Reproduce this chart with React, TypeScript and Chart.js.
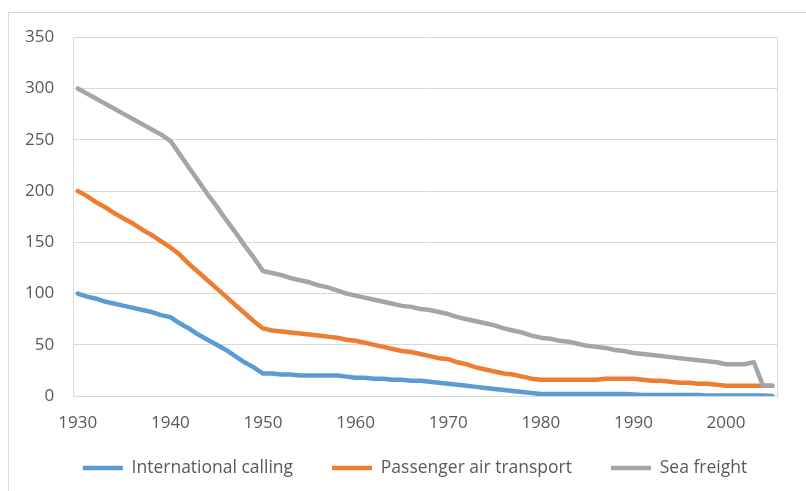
import React, { useEffect, useRef } from "react";
import { Chart, registerables } from "chart.js";

Chart.register(...registerables);

const years = [
  1930, 1931, 1932, 1933, 1934, 1935, 1936, 1937, 1938, 1939,
  1940, 1941, 1942, 1943, 1944, 1945, 1946, 1947, 1948, 1949,
  1950, 1951, 1952, 1953, 1954, 1955, 1956, 1957, 1958, 1959,
  1960, 1961, 1962, 1963, 1964, 1965, 1966, 1967, 1968, 1969,
  1970, 1971, 1972, 1973, 1974, 1975, 1976, 1977, 1978, 1979,
  1980, 1981, 1982, 1983, 1984, 1985, 1986, 1987, 1988, 1989,
  1990, 1991, 1992, 1993, 1994, 1995, 1996, 1997, 1998, 1999,
  2000, 2001, 2002, 2003, 2004, 2005,
];

const internationalCalling = [
  100, 97, 95, 92, 90, 88, 86, 84, 82, 79,
  77, 71, 66, 60, 55, 50, 45, 39, 33, 28,
  22, 22, 21, 21, 20, 20, 20, 20, 20, 19,
  18, 18, 17, 17, 16, 16, 15, 15, 14, 13,
  12, 11, 10, 9, 8, 7, 6, 5, 4, 3,
  2, 2, 2, 2, 2, 2, 2, 2, 2, 2,
  1.5, 1, 1, 1, 1, 1, 1, 1, 0.5, 0.5,
  0.5, 0.5, 0.5, 0.5, 0.5, 0,
];

const passengerAirTransport = [
  200, 195, 189, 184, 178, 173, 168, 162, 157, 151,
  145, 138, 129, 121, 113, 105, 97, 89, 81, 73,
  66, 64, 63, 62, 61, 60, 59, 58, 57, 55,
  54, 52, 50, 48, 46, 44, 43, 41, 39, 37,
  36, 33, 31, 28, 26, 24, 22, 21, 19, 17,
  16, 16, 16, 16, 16, 16, 16, 17, 17, 17,
  17, 16, 15, 15, 14, 13, 13, 12, 12, 11,
  10, 10, 10, 10, 10, 10,
];

const seaFreight = [
  300, 295, 290, 285, 280, 275, 270, 265, 260, 255,
  249, 236, 223, 210, 197, 185, 172, 160, 147, 135,
  122, 120, 118, 115, 113, 111, 108, 106, 103, 100,
  98, 96, 94, 92, 90, 88, 87, 85, 84, 82,
  80, 77, 75, 73, 71, 69, 66, 64, 62, 59,
  57, 56, 54, 53, 51, 49, 48, 47, 45, 44,
  42, 41, 40, 39, 38, 37, 36, 35, 34, 33,
  31, 31, 31, 33, 10, 10,
];

const seriesNames = ["International calling", "Passenger air transport", "Sea freight"];
const seriesColors = ["#5B9BD5", "#ED7D31", "#A5A5A5"];
const yMin = 0;
const yMax = 350;
const yStep = 50;
const labelEvery = 10;

const FONT = "'Open Sans', 'Liberation Sans', sans-serif";
const TEXT = "#595959";
const GRID = "#d9d9d9";
const LEGEND_SHIFT_X = 23.5;
const LEGEND_SHIFT_Y = -30.3;

const layoutTweaks = {
  id: "layoutTweaks",
  afterLayout(chart: any) {
    const lg = chart.legend;
    if (lg) {
      lg.left += LEGEND_SHIFT_X;
      lg.right += LEGEND_SHIFT_X;
      lg.top += LEGEND_SHIFT_Y;
      lg.bottom += LEGEND_SHIFT_Y;
    }
  },
  beforeDatasetsDraw(chart: any) {
    const { ctx, chartArea } = chart;
    const x = Math.round(chartArea.right) + 0.5;
    ctx.save();
    ctx.strokeStyle = GRID;
    ctx.lineWidth = 1;
    ctx.beginPath();
    ctx.moveTo(x, chartArea.top);
    ctx.lineTo(x, chartArea.bottom);
    ctx.stroke();
    ctx.restore();
  },
};

export default function App() {
  const canvasRef = useRef<HTMLCanvasElement | null>(null);

  useEffect(() => {
    const canvas = canvasRef.current;
    if (!canvas) return;
    const values = [internationalCalling, passengerAirTransport, seaFreight];
    const chart = new Chart(canvas, {
      type: "line",
      data: {
        labels: years.map(String),
        datasets: values.map((data, i) => ({
          label: seriesNames[i],
          data,
          borderColor: seriesColors[i],
          backgroundColor: seriesColors[i],
          borderWidth: 4.5,
          pointRadius: 0,
          pointHoverRadius: 0,
          tension: 0,
          fill: false,
          borderCapStyle: "round",
          borderJoinStyle: "round",
          order: 3 - i,
        })),
      },
      options: {
        animation: false,
        responsive: false,
        devicePixelRatio: 1,
        layout: { padding: { left: -2, right: 29, top: 0, bottom: 0 } },
        plugins: {
          tooltip: { enabled: false },
          legend: {
            position: "bottom",
            labels: {
              usePointStyle: true,
              pointStyle: "line",
              pointStyleWidth: 40,
              padding: 39,
              color: TEXT,
              font: { family: FONT, size: 17.5 },
              sort: (a: any, b: any) => a.datasetIndex - b.datasetIndex,
            },
          },
        },
        scales: {
          x: {
            type: "category",
            offset: true,
            grid: { display: false, drawTicks: false },
            border: { display: true, color: GRID, width: 1 },
            ticks: {
              autoSkip: false,
              maxRotation: 0,
              minRotation: 0,
              padding: 17,
              color: TEXT,
              font: { family: FONT, size: 17 },
              callback: (_v: any, i: number) => (years[i] % labelEvery === 0 ? String(years[i]) : ""),
            },
          },
          y: {
            min: yMin,
            max: yMax,
            grid: { color: GRID, lineWidth: 1, drawTicks: false },
            border: { display: true, color: GRID, width: 1 },
            ticks: {
              stepSize: yStep,
              padding: 19,
              color: TEXT,
              font: { family: FONT, size: 17 },
            },
          },
        },
      },
      plugins: [layoutTweaks],
    });
    return () => chart.destroy();
  }, []);

  return (
    <div
      style={{
        position: "fixed",
        left: 0,
        top: 0,
        width: 806,
        height: 491,
        overflow: "hidden",
        background: "#ffffff",
      }}
    >
      <div
        style={{
          position: "absolute",
          left: 8,
          top: 12,
          width: 900,
          height: 600,
          border: `1px solid ${GRID}`,
          boxSizing: "border-box",
        }}
      />
      <canvas
        ref={canvasRef}
        width={798}
        height={509}
        style={{ position: "absolute", left: 8, top: 8, width: 798, height: 509 }}
      />
    </div>
  );
}
